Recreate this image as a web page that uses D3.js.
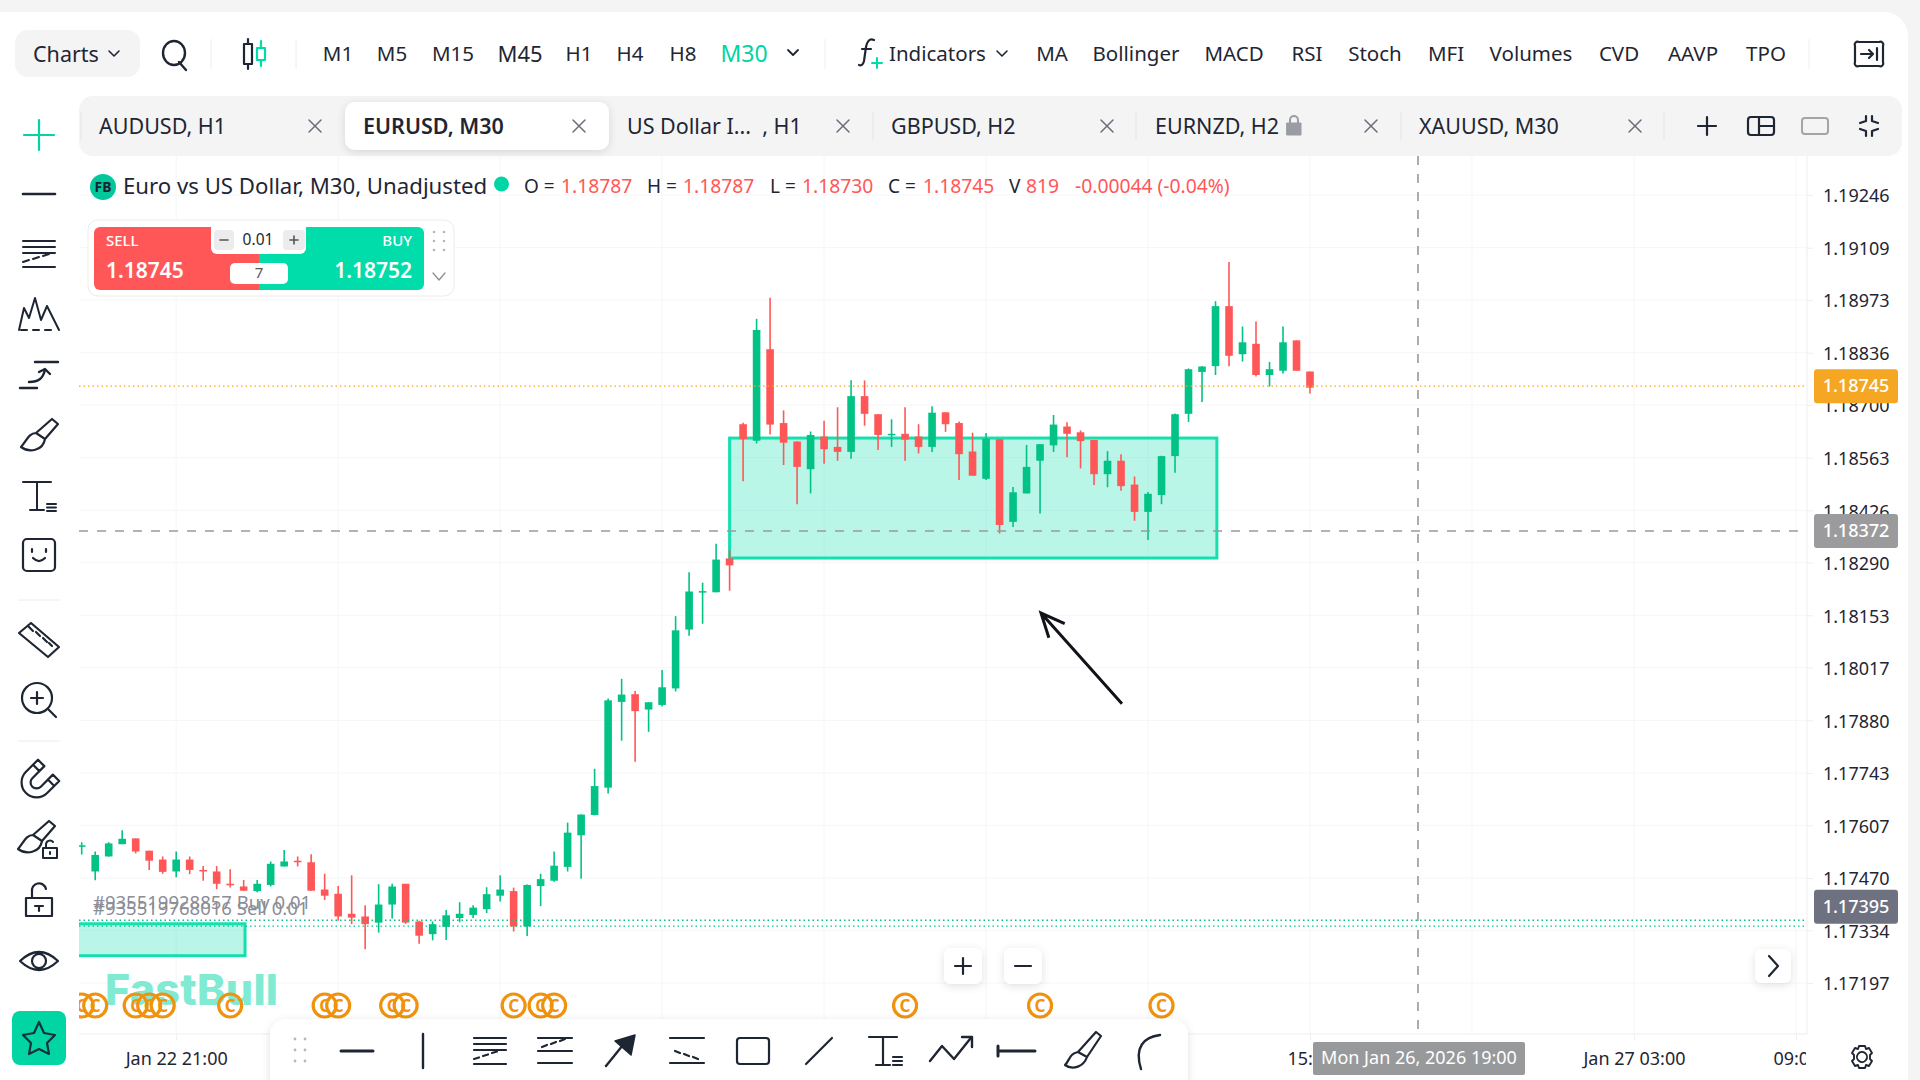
<!DOCTYPE html>
<html>
<head>
<meta charset="utf-8">
<script src="https://cdn.jsdelivr.net/npm/d3@7"></script>
<style>
html,body{margin:0;padding:0;background:#f4f4f5;overflow:hidden;}
svg{display:block;}
text{font-family:"Noto Sans",sans-serif;}
</style>
</head>
<body>
<div id="chart"></div>
<script>
// candle values, one entry per M30 bar
var opens = [1.17552,1.17487,1.17526,1.17558,1.17573,1.17541,1.17518,1.17487,1.17518,1.17491,1.17487,1.17455,1.17448,1.17436,1.17452,1.17500,1.17515,1.17511,1.17440,1.17429,1.17377,1.17370,1.17354,1.17401,1.17455,1.17357,1.17324,1.17343,1.17366,1.17374,1.17389,1.17424,1.17436,1.17344,1.17449,
1.17463,1.17499,1.17581,1.17634,1.17705,1.17928,1.17948,1.17908,1.17920,1.17963,1.18116,1.18214,1.18213,1.18301,
1.18650,1.18607,1.18845,1.18653,1.18605,1.18533,1.18618,1.18591,1.18578,1.18723,1.18676,1.18623,1.18625,1.18618,1.18591,1.18681,1.18653,1.18579,1.18508,1.18611,1.18396,1.18470,1.18555,1.18595,1.18644,1.18629,1.18609,1.18520,1.18555,1.18493,1.18422,1.18466,1.18567,1.18677,1.18786,1.18801,1.18957,1.18832,1.18859,1.18778,1.18789,1.18868,1.18787];
var highs = [1.17563,1.17539,1.17563,1.17594,1.17573,1.17541,1.17526,1.17539,1.17526,1.17501,1.17501,1.17493,1.17465,1.17465,1.17513,1.17543,1.17526,1.17532,1.17481,1.17449,1.17477,1.17399,1.17454,1.17455,1.17455,1.17359,1.17357,1.17387,1.17407,1.17399,1.17446,1.17477,1.17445,1.17453,1.17481,
1.17539,1.17614,1.17635,1.17754,1.17937,1.17988,1.17956,1.17927,1.18011,1.18151,1.18265,1.18238,1.18339,1.18323,
1.18654,1.18924,1.18979,1.18686,1.18606,1.18631,1.18659,1.18694,1.18764,1.18764,1.18676,1.18663,1.18694,1.18650,1.18697,1.18681,1.18657,1.18628,1.18627,1.18611,1.18487,1.18596,1.18598,1.18674,1.18655,1.18634,1.18609,1.18580,1.18572,1.18514,1.18474,1.18568,1.18678,1.18795,1.18801,1.18970,1.19072,1.18904,1.18917,1.18812,1.18904,1.18868,1.18787];
var lows = [1.17531,1.17464,1.17526,1.17558,1.17534,1.17491,1.17481,1.17472,1.17480,1.17463,1.17441,1.17445,1.17437,1.17433,1.17448,1.17500,1.17500,1.17437,1.17413,1.17359,1.17350,1.17285,1.17328,1.17365,1.17351,1.17299,1.17308,1.17309,1.17355,1.17366,1.17379,1.17409,1.17331,1.17319,1.17397,
1.17460,1.17487,1.17468,1.17633,1.17690,1.17827,1.17772,1.17850,1.17916,1.17955,1.18100,1.18131,1.18213,1.18217,
1.18502,1.18600,1.18623,1.18544,1.18442,1.18470,1.18547,1.18555,1.18560,1.18646,1.18583,1.18591,1.18555,1.18574,1.18578,1.18630,1.18505,1.18516,1.18505,1.18366,1.18383,1.18470,1.18418,1.18578,1.18564,1.18535,1.18492,1.18486,1.18477,1.18399,1.18349,1.18442,1.18524,1.18656,1.18708,1.18778,1.18801,1.18813,1.18774,1.18748,1.18782,1.18789,1.18730];
var closes = [1.17555,1.17530,1.17560,1.17572,1.17539,1.17515,1.17486,1.17518,1.17491,1.17487,1.17455,1.17452,1.17437,1.17455,1.17507,1.17513,1.17511,1.17437,1.17424,1.17370,1.17367,1.17350,1.17401,1.17448,1.17354,1.17320,1.17350,1.17373,1.17377,1.17393,1.17428,1.17440,1.17344,1.17452,1.17467,
1.17502,1.17588,1.17635,1.17709,1.17932,1.17947,1.17904,1.17927,1.17966,1.18114,1.18215,1.18216,1.18298,1.18283,
1.18611,1.18895,1.18649,1.18602,1.18539,1.18622,1.18585,1.18578,1.18723,1.18677,1.18622,1.18625,1.18610,1.18591,1.18680,1.18650,1.18572,1.18516,1.18612,1.18388,1.18473,1.18539,1.18598,1.18649,1.18625,1.18606,1.18520,1.18555,1.18489,1.18422,1.18469,1.18567,1.18676,1.18793,1.18800,1.18957,1.18828,1.18863,1.18778,1.18793,1.18863,1.18789,1.18745];

var priceTicks = [1.19246,1.19109,1.18973,1.18836,1.18700,1.18563,1.18426,1.18290,1.18153,1.18017,1.17880,1.17743,1.17607,1.17470,1.17334,1.17197];
var gridBars = [7,19,31,43,55,67,79,91,103,115,127];
var timeTickBars = [7,91,115,127];
var timeTickLabels = ["Jan 22 21:00","15:00","Jan 27 03:00","09:00"];
var closeMarkerBars = [0,1,4,5,6,11,18,19,23,24,32,34,35,61,71,80];

var lastPrice = 1.18745;
var lastLineLevel = 1.18749; // where the line sits on the axis
var crossPrice = 1.18372;
var crossBar = 99;
var orderPrices = [1.17360,1.17345];
var orderLabels = ["#935519928857 Buy 0.01","#935519768016 Sell 0.01"];
var orderLabelPrices = [1.17405,1.17391];
var boxBars = [48,84.1], boxPrices = [1.18614,1.18302];
var box2Bars = [-20,12.1], box2Prices = [1.17351,1.17268];
var arrowBars = [77.07,71.07], arrowPrices = [1.17923,1.18159];

var timeframes = ["M1","M5","M15","M45","H1","H4","H8","M30"];
var timeframeX = [338,392,453,520,579,630,683,744];
var timeframeSize = [20.5,20.5,20.5,22,20.5,20.5,20.5,23];
var indicators = ["MA","Bollinger","MACD","RSI","Stoch","MFI","Volumes","CVD","AAVP","TPO"];
var indicatorX = [1052,1136,1234,1307,1375,1446,1531,1619,1693,1766];
var tabs = ["AUDUSD, H1","EURUSD, M30","US Dollar I...\u00a0\u00a0, H1","GBPUSD, H2","EURNZD, H2","XAUUSD, M30"];

var W = 1920, H = 1080;
var green = "#02c286", red = "#ff5757", teal = "#00dcaa", ink = "#1f2633";
var plot = {left:79, right:1807, top:156, bottom:1034};

var svg = d3.select("#chart").append("svg").attr("width",W).attr("height",H);
var defs = svg.append("defs");
defs.append("clipPath").attr("id","plotClip").append("rect")
  .attr("x",plot.left).attr("y",plot.top).attr("width",plot.right-plot.left).attr("height",plot.bottom-plot.top);
defs.append("clipPath").attr("id","timeClip").append("rect")
  .attr("x",plot.left).attr("y",0).attr("width",plot.right-plot.left-1).attr("height",46);
var sh = defs.append("filter").attr("id","soft").attr("x","-30%").attr("y","-30%").attr("width","160%").attr("height","170%");
sh.append("feDropShadow").attr("dx",0).attr("dy",2).attr("stdDeviation",4).attr("flood-color","#000").attr("flood-opacity",0.12);

var x = d3.scaleLinear().domain([0,91]).range([81.7,1310]);
var y = d3.scaleLinear().domain([1.19246,1.17197]).range([195,983]);

function label(g,px,py,str,o){
  o = o || {};
  return g.append("text").attr("x",px).attr("y",py).attr("dy","0.35em")
    .attr("font-size",o.size||20).attr("fill",o.fill||ink).attr("font-weight",o.weight||400)
    .attr("text-anchor",o.anchor||"start").text(str);
}
function icon(g,px,py,d,o){
  o = o || {};
  return g.append("path").attr("transform","translate("+px+","+py+")"+(o.rot?" rotate("+o.rot+")":"")).attr("d",d)
    .attr("fill",o.fill||"none").attr("stroke",o.stroke||ink).attr("stroke-width",o.sw||2)
    .attr("stroke-linejoin","round").attr("stroke-linecap","round");
}

// card
svg.append("rect").attr("x",-30).attr("y",12).attr("width",1938).attr("height",1090).attr("rx",24).attr("fill","#fff");

// grid
var plotG = svg.append("g");
plotG.append("g").selectAll("line").data(priceTicks).enter().append("line")
  .attr("x1",plot.left).attr("x2",plot.right).attr("y1",d=>y(d)).attr("y2",d=>y(d)).attr("stroke","#f6f6f7");
plotG.append("g").selectAll("line").data(gridBars).enter().append("line")
  .attr("x1",d=>x(d)).attr("x2",d=>x(d)).attr("y1",plot.top).attr("y2",plot.bottom).attr("stroke","#f6f6f7");
plotG.append("line").attr("x1",plot.right).attr("x2",plot.right).attr("y1",plot.top).attr("y2",plot.bottom).attr("stroke","#eeeeef");
plotG.append("line").attr("x1",plot.left).attr("x2",plot.right).attr("y1",plot.bottom).attr("y2",plot.bottom).attr("stroke","#eeeeef");

var clip = plotG.append("g").attr("clip-path","url(#plotClip)");

// watermark
clip.append("text").attr("x",105).attr("y",1005).attr("font-size",43).attr("font-weight",800)
  .attr("fill","#80ebd2").attr("textLength",173).style("font-family","Inter").text("FastBull");

// drawn boxes
[[boxBars,boxPrices],[box2Bars,box2Prices]].forEach(function(b){
  clip.append("rect").attr("x",x(b[0][0])).attr("y",y(b[1][0]))
    .attr("width",x(b[0][1])-x(b[0][0])).attr("height",y(b[1][1])-y(b[1][0]))
    .attr("fill",teal).attr("fill-opacity",0.27).attr("stroke","#14dfae").attr("stroke-width",3);
});

// candles
var bars = d3.range(opens.length);
var barColor = i => closes[i] >= opens[i] ? green : red;
clip.append("g").selectAll("line").data(bars).enter().append("line")
  .attr("x1",i=>x(i)).attr("x2",i=>x(i)).attr("y1",i=>y(highs[i])).attr("y2",i=>y(lows[i]))
  .attr("stroke",barColor).attr("stroke-width",1.6);
clip.append("g").selectAll("rect").data(bars).enter().append("rect")
  .attr("x",i=>x(i)-3.8).attr("width",7.6)
  .attr("y",i=>y(Math.max(opens[i],closes[i])))
  .attr("height",i=>Math.max(1.5,Math.abs(y(opens[i])-y(closes[i]))))
  .attr("fill",barColor);

// price lines
clip.append("line").attr("x1",plot.left).attr("x2",plot.right).attr("y1",y(lastLineLevel)).attr("y2",y(lastLineLevel))
  .attr("stroke","#f5a623").attr("stroke-width",1.4).attr("stroke-dasharray","1.5 3");
clip.selectAll("line.order").data(orderPrices).enter().append("line").attr("class","order")
  .attr("x1",plot.left).attr("x2",plot.right).attr("y1",d=>y(d)).attr("y2",d=>y(d))
  .attr("stroke",green).attr("stroke-width",1.4).attr("stroke-dasharray","1.5 3");
clip.append("line").attr("x1",plot.left).attr("x2",plot.right).attr("y1",y(crossPrice)).attr("y2",y(crossPrice))
  .attr("stroke","#9a9a9c").attr("stroke-width",1.5).attr("stroke-dasharray","9 9");
clip.append("line").attr("x1",x(crossBar)).attr("x2",x(crossBar)).attr("y1",plot.top).attr("y2",plot.bottom)
  .attr("stroke","#8a8a8c").attr("stroke-width",1.4).attr("stroke-dasharray","9 9");

// order labels
orderLabels.forEach(function(t,i){
  label(clip,93,y(orderLabelPrices[i]),t,{size:18.5,fill:"#8b8e96"});
});

// arrow drawn on the chart
var ax0 = x(arrowBars[0]), ay0 = y(arrowPrices[0]), ax1 = x(arrowBars[1]), ay1 = y(arrowPrices[1]);
var ang = Math.atan2(ay0-ay1,ax0-ax1);
var headLen = 26;
clip.append("path")
  .attr("d","M"+ax0+","+ay0+"L"+ax1+","+ay1
    +"M"+(ax1+headLen*Math.cos(ang-0.42))+","+(ay1+headLen*Math.sin(ang-0.42))
    +"L"+ax1+","+ay1
    +"L"+(ax1+headLen*Math.cos(ang+0.42))+","+(ay1+headLen*Math.sin(ang+0.42)))
  .attr("fill","none").attr("stroke","#10131a").attr("stroke-width",3);

// close markers
var cm = clip.append("g").selectAll("g").data(closeMarkerBars).enter().append("g")
  .attr("transform",d=>"translate("+x(d)+",1005.5)");
cm.append("circle").attr("r",11.5).attr("fill","none").attr("stroke","#f0920c").attr("stroke-width",3.2);
cm.append("text").attr("text-anchor","middle").attr("dy","0.36em").attr("font-size",17).attr("font-weight",700).attr("fill","#f0920c").text("C");

// price axis
var yAxis = svg.append("g").attr("transform","translate("+plot.right+",0)")
  .call(d3.axisRight(y).tickValues(priceTicks).tickFormat(d3.format(".5f")).tickSize(6).tickPadding(10));
yAxis.select(".domain").remove();
yAxis.selectAll("line").attr("stroke","#eeeeef");
yAxis.selectAll("text").attr("dy","0.38em").attr("font-size",18).attr("fill",ink).style("font-family","\"Noto Sans\"");

// time axis
var xAxis = svg.append("g").attr("transform","translate(0,"+plot.bottom+")").attr("clip-path","url(#timeClip)")
  .call(d3.axisBottom(x).tickValues(timeTickBars).tickFormat((d,i)=>timeTickLabels[i]).tickSize(6).tickPadding(12));
xAxis.select(".domain").remove();
xAxis.selectAll("line").attr("stroke","#eeeeef");
xAxis.selectAll("text").attr("font-size",18).attr("fill",ink).style("font-family","\"Noto Sans\"");

// price tags
function priceTag(level,txt,fill){
  svg.append("rect").attr("x",1814).attr("y",y(level)-17).attr("width",84).attr("height",34).attr("rx",3).attr("fill",fill);
  label(svg,1856,y(level),txt,{size:18,fill:"#fff",anchor:"middle",weight:500});
}
priceTag(lastLineLevel,lastPrice.toFixed(5),"#f5a623");
priceTag(crossPrice,crossPrice.toFixed(5),"#9b9b9d");
priceTag(1.17395,"1.17395","#6e7180");

// crosshair time tag
svg.append("rect").attr("x",1313).attr("y",1042).attr("width",212).attr("height",33).attr("rx",2).attr("fill","#98999b");
label(svg,1419,1058,"Mon Jan 26, 2026 19:00",{size:18,fill:"#fff",anchor:"middle"});

// header
var head = svg.append("g");
head.append("rect").attr("x",15).attr("y",30).attr("width",125).attr("height",47).attr("rx",13).attr("fill","#f4f4f5");
label(head,33,54,"Charts",{size:21.5});
var chev = "M-5,-3L0,2L5,-3";
icon(head,114,54,chev,{sw:1.6});
icon(head,174,53,"M-11,0a11,12 0 1 0 22,0a11,12 0 1 0 -22,0M5,9L12,17",{sw:2.4});
[211,296,825,1809].forEach(function(dx){
  head.append("line").attr("x1",dx).attr("x2",dx).attr("y1",39).attr("y2",69).attr("stroke","#eeeeef");
});
icon(head,248,54,"M-4,-10H4V10H-4ZM0,-15V-10M0,10V15",{sw:2.2});
icon(head,261,54,"M-4,-6H4V6H-4ZM0,-13V-6M0,6V12",{sw:2.2,stroke:teal});
timeframes.forEach(function(t,i){
  label(head,timeframeX[i],54,t,{size:timeframeSize[i],anchor:"middle",fill:t=="M30"?"#00d5a3":ink});
});
icon(head,793,53,chev,{sw:1.8});
// f+ glyph of the indicators button
icon(head,868,53,"M6,-13C1,-15 -1,-11 -2,-6L-4,8C-5,12 -7,13 -9,12M-6,-4H3",{sw:2.2});
icon(head,877,63,"M-5,0H5M0,-5V5",{sw:2,stroke:teal});
label(head,889,54,"Indicators",{size:20.5});
icon(head,1002,54,chev,{sw:1.6});
indicators.forEach(function(t,i){
  label(head,indicatorX[i],54,t,{size:20.5,anchor:"middle"});
});
icon(head,1869,54,"M-10,-12H10A3,3 0 0 1 14,-8V8A3,3 0 0 1 10,12H-10A3,3 0 0 1 -14,8V-8A3,3 0 0 1 -10,-12ZM-8,0H4M0,-4L4,0L0,4M8,-6V6",{sw:2.2});

// tab bar
var tabsG = svg.append("g");
tabsG.append("rect").attr("x",79).attr("y",96).attr("width",1823).attr("height",60).attr("rx",14).attr("fill","#f4f4f5");
tabsG.append("rect").attr("x",345).attr("y",102).attr("width",264).attr("height",48).attr("rx",10).attr("fill","#fff").attr("filter","url(#soft)");
[81,873,1136,1401,1664].forEach(function(sx){
  tabsG.append("line").attr("x1",sx).attr("x2",sx).attr("y1",112).attr("y2",140).attr("stroke","#e4e4e6");
});
tabs.forEach(function(t,i){
  label(tabsG,99+i*264,126,t,{size:21.5,weight:i==1?600:400});
  icon(tabsG,315+i*264,126,"M-6,-6L6,6M6,-6L-6,6",{sw:1.5,stroke:"#6a6e78"});
});
icon(tabsG,1294,126,"M-4,-3V-6A4,4 0 0 1 4,-6V-3",{sw:2,stroke:"#9a9ca3"});
icon(tabsG,1294,126,"M-7,-3H7V9H-7Z",{sw:1,stroke:"#9a9ca3",fill:"#9a9ca3"});
icon(tabsG,1707,126,"M-9,0H9M0,-9V9",{sw:2.2});
icon(tabsG,1761,126,"M-10,-9H10A3,3 0 0 1 13,-6V6A3,3 0 0 1 10,9H-10A3,3 0 0 1 -13,6V-6A3,3 0 0 1 -10,-9ZM-2,-9V9M-2,0H13",{sw:2.2});
icon(tabsG,1815,126,"M-10,-8H10A3,3 0 0 1 13,-5V5A3,3 0 0 1 10,8H-10A3,3 0 0 1 -13,5V-5A3,3 0 0 1 -10,-8Z",{sw:2,stroke:"#a3a5ab"});
icon(tabsG,1869,126,"M-3,-10V-5L-9,-3M3,-10V-5L9,-3M-3,10V5L-9,3M3,10V5L9,3",{sw:2.2});

// legend row
var legend = svg.append("g");
legend.append("circle").attr("cx",103).attr("cy",187).attr("r",13).attr("fill","#02c79a");
label(legend,103,187,"FB",{size:14,weight:700,anchor:"middle",fill:"#1a2230"});
label(legend,123,186,"Euro vs US Dollar, M30, Unadjusted",{size:22.2});
legend.append("circle").attr("cx",501.5).attr("cy",184).attr("r",7.5).attr("fill","#00d5a3");
var legendLabels = ["O =","H =","L =","C =","V"];
var legendLabelX = [524,647,770,888,1009];
var legendValues = ["1.18787","1.18787","1.18730","1.18745","819"];
var legendValueX = [561,683,802,923,1026];
legendLabels.forEach(function(t,i){
  label(legend,legendLabelX[i],186,t,{size:19});
  label(legend,legendValueX[i],186,legendValues[i],{size:19.3,fill:red});
});
label(legend,1075,186,"-0.00044 (-0.04%)",{size:19.3,fill:red});

// trade widget
var trade = svg.append("g");
trade.append("rect").attr("x",88).attr("y",220).attr("width",366).attr("height",76).attr("rx",10).attr("fill","#fff").attr("stroke","#ececee");
trade.append("path").attr("d","M100,227H259V290H100A6,6 0 0 1 94,284V233A6,6 0 0 1 100,227Z").attr("fill",red);
trade.append("path").attr("d","M259,227H418A6,6 0 0 1 424,233V284A6,6 0 0 1 418,290H259Z").attr("fill","#00dcaa");
trade.append("path").attr("d","M211,227H306V248A6,6 0 0 1 300,254H217A6,6 0 0 1 211,248Z").attr("fill","#fff");
trade.append("rect").attr("x",214).attr("y",230).attr("width",20).attr("height",20).attr("rx",4).attr("fill","#ececee");
trade.append("rect").attr("x",283).attr("y",230).attr("width",22).attr("height",20).attr("rx",4).attr("fill","#ececee");
icon(trade,224,240,"M-4,0H4",{sw:1.6,stroke:"#555"});
icon(trade,294,240,"M-4,0H4M0,-4V4",{sw:1.6,stroke:"#555"});
label(trade,258,240,"0.01",{size:15.5,anchor:"middle"});
trade.append("rect").attr("x",230).attr("y",263).attr("width",58).attr("height",21).attr("rx",5).attr("fill","#fff");
label(trade,259,273,"7",{size:15,anchor:"middle",fill:"#555"});
label(trade,106,241,"SELL",{size:15,fill:"#fff",weight:500});
label(trade,412,241,"BUY",{size:15,fill:"#fff",anchor:"end",weight:500});
label(trade,106,271,"1.18745",{size:21,fill:"#fff",weight:600});
label(trade,412,271,"1.18752",{size:21,fill:"#fff",anchor:"end",weight:600});
[-5,5].forEach(function(dx){
  [232,241,250].forEach(function(dy){
    trade.append("circle").attr("cx",439+dx).attr("cy",dy).attr("r",1.3).attr("fill","#b5b7bc");
  });
});
icon(trade,439,276,"M-6,-3L0,4L6,-3",{sw:1.3,stroke:"#8a8d94"});

// left tool rail
var rail = svg.append("g");
var brushPath = "M13,-17L19,-12L6,3L-3,-3ZM-3,-3C-10,-3 -12,4 -18,11C-10,17 4,15 6,3";
icon(rail,39,135,"M-15,0H15M0,-15V15",{sw:2.2,stroke:"#00d5a3"});
icon(rail,39,194,"M-16,0H16",{sw:2.6});
icon(rail,39,254,"M-16,-13H16M-16,-7H16M-16,-1H16M-16,13H16M-16,8L-10,6M-6,5L0,3M4,2L10,0",{sw:2});
icon(rail,39,314,"M-20,16L-15,-6L-10,4L-4,-16L2,6L8,-8L14,4L20,16M-18,16H-12M-6,16H0M6,16H12",{sw:2});
icon(rail,39,375,"M-19,13H-2M-4,-13H19M-10,7C0,7 4,3 6,-5M0,-3L6,-6L11,-1",{sw:2.4});
icon(rail,39,436,brushPath,{sw:2.2});
icon(rail,39,496,"M-16,-14H12M-2,-14V14M-9,14H5M8,8H17M8,11.5H17M8,15H17",{sw:2});
icon(rail,39,555,"M-12,-16H12A4,4 0 0 1 16,-12V12A4,4 0 0 1 12,16H-12A4,4 0 0 1 -16,12V-12A4,4 0 0 1 -12,-16ZM-7,-6V-3M7,-6V-3M-6,3Q0,9 6,3",{sw:2.2});
rail.append("line").attr("x1",18).attr("x2",60).attr("y1",600).attr("y2",600).attr("stroke","#ececee");
icon(rail,39,640,"M-20,-7L-8,-17L20,7L9,17ZM-10,-13L-6,-9M-3,-8L1,-4M4,-2L8,2M10,3L13,6",{sw:2.2});
icon(rail,39,700,"M-17,-2a15,15 0 1 0 30,0a15,15 0 1 0 -30,0M10,10L17,17M-8,-2H4M-2,-8V4",{sw:2.2});
rail.append("line").attr("x1",18).attr("x2",60).attr("y1",741).attr("y2",741).attr("stroke","#ececee");
icon(rail,38,781,"M-15,-15H-6V2A6,6 0 0 0 6,2V-15H15V2A15,15 0 0 1 -15,2ZM-15,-8H-6M6,-8H15",{sw:2.2,rot:45});
icon(rail,36,838,brushPath,{sw:2.2});
icon(rail,50,850,"M-7,-2H7V8H-7ZM-4,-2V-5A4,4 0 0 1 3,-8M0,2V4",{sw:2});
icon(rail,39,902,"M-13,-4H13V14H-13ZM-7,-4V-10A7,7 0 0 1 7,-13M-4,4H4M0,4V9",{sw:2.2});
icon(rail,39,961,"M-19,0Q0,-18 19,0Q0,18 -19,0ZM-7,0a7,7 0 1 0 14,0a7,7 0 1 0 -14,0",{sw:2.2});
rail.append("rect").attr("x",12).attr("y",1011).attr("width",54).attr("height",54).attr("rx",8).attr("fill","#00d5a3");
icon(rail,39,1038,"M0,-16L5,-5L16,-3L8,5L10,16L0,11L-10,16L-8,5L-16,-3L-5,-5Z",{sw:2.2,stroke:"#14323a"});

// zoom and scroll buttons
function floatButton(cx,cy,w,h,d){
  svg.append("rect").attr("x",cx-w/2).attr("y",cy-h/2).attr("width",w).attr("height",h).attr("rx",7).attr("fill","#fff").attr("filter","url(#soft)");
  icon(svg,cx,cy,d,{sw:2.2});
}
floatButton(963,966,38,36,"M-8,0H8M0,-8V8");
floatButton(1023,966,38,36,"M-8,0H8");
floatButton(1773,966,36,34,"M-4,-10L5,0L-4,10");

// bottom drawing toolbar
var tools = svg.append("g");
tools.append("rect").attr("x",270).attr("y",1019).attr("width",918).attr("height",80).attr("rx",16).attr("fill","#fff").attr("filter","url(#soft)");
[-5,5].forEach(function(dx){
  [1039,1050,1061].forEach(function(dy){
    tools.append("circle").attr("cx",300+dx).attr("cy",dy).attr("r",1.4).attr("fill","#b5b7bc");
  });
});
var toolY = 1051;
icon(tools,357,toolY,"M-16,0H16",{sw:3});
icon(tools,423,toolY,"M0,-17V17",{sw:2.4});
icon(tools,490,toolY,"M-16,-13H16M-16,-7H16M-16,-1H16M-16,13H16M-16,8L-11,6.5M-7,5L-2,3.5M2,2L7,0.5",{sw:2.2});
icon(tools,555,toolY,"M-17,-13H17M-17,12H17M-17,0H17M-13,-4L-8,-6M-4,-7L1,-9M5,-10L10,-12",{sw:2.2});
icon(tools,621,toolY,"M-15,15L6,-11",{sw:2.4});
icon(tools,621,toolY,"M-6,-10L14,-16L10,4Z",{sw:1.5,fill:ink});
icon(tools,687,toolY,"M-17,-13H17M-17,12H17M-12,0L-7,2M-3,3L2,5M6,6L11,8",{sw:2.2});
icon(tools,753,toolY,"M-13,-13H13A3,3 0 0 1 16,-10V10A3,3 0 0 1 13,13H-13A3,3 0 0 1 -16,10V-10A3,3 0 0 1 -13,-13Z",{sw:2.2});
icon(tools,819,toolY,"M-13,13L13,-13",{sw:2.2});
icon(tools,885,toolY,"M-16,-14H12M-2,-14V14M-9,14H5M8,6H17M8,10H17M8,14H17",{sw:2.2});
icon(tools,952,toolY,"M-22,10L-10,-5L2,8L18,-12M10,-14H20V-4",{sw:2.4});
icon(tools,1016,toolY,"M-18,-5V5M-18,0H19",{sw:3});
icon(tools,1081,toolY,"M15,-19L20,-15L6,6L-3,1ZM-3,1C-12,3 -11,9 -16,14C-8,20 3,15 6,6",{sw:2.2});
icon(tools,1150,toolY,"M-9,18C-16,-4 -6,-14 10,-16",{sw:2.4});

// settings gear
icon(svg,1862,1057,"M-4,-3a5,5 0 1 0 8,6a5,5 0 1 0 -8,-6ZM-3,-11H3L4,-8L7,-9L10,-4L8,-2V2L10,4L7,9L4,8L3,11H-3L-4,8L-7,9L-10,4L-8,2V-2L-10,-4L-7,-9L-4,-8Z",{sw:1.9});
</script>
</body>
</html>
